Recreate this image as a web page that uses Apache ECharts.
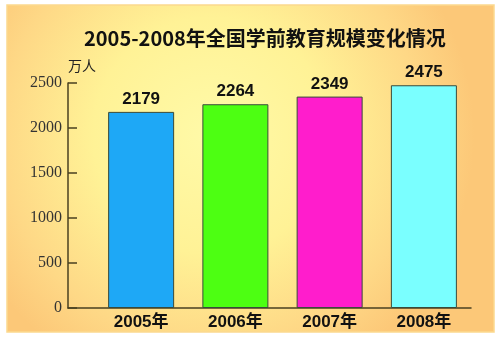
<!DOCTYPE html>
<html>
<head>
<meta charset="utf-8">
<script src="https://cdn.jsdelivr.net/npm/echarts@6/dist/echarts.min.js"></script>
<style>html,body{margin:0;padding:0;background:#fff;}#c{width:500px;height:338px;}</style>
</head>
<body>
<div id="c"></div>
<script>
var categories = ['2005年', '2006年', '2007年', '2008年'];
var values = [2179, 2264, 2349, 2475];
var barColors = ['#1ea8f6', '#4dff12', '#ff1dcc', '#7affff'];
var yTicks = [0, 500, 1000, 1500, 2000, 2500];
var titleText = '2005-2008年全国学前教育规模变化情况';
var unitText = '万人';

var chart = echarts.init(document.getElementById('c'), null, {renderer: 'canvas'});
var sans = 'Liberation Sans, Arial, Noto Sans CJK SC, sans-serif';
chart.setOption({
  animation: false,
  backgroundColor: '#ffffff',
  graphic: [{
    type: 'rect', z: -10, silent: true,
    shape: {x: 7, y: 5, width: 487, height: 327},
    style: {
      fill: {type: 'radial', x: 0.42, y: 0.4, r: 0.8, colorStops: [
        {offset: 0, color: '#fffaa8'}, {offset: 0.45, color: '#fff296'},
        {offset: 0.8, color: '#fed886'}, {offset: 1, color: '#fcc878'}]},
      stroke: '#fbd98e', lineWidth: 1.5
    }
  }],
  title: {
    text: titleText, left: 79, top: 23,
    textStyle: {fontFamily: 'Noto Sans CJK SC, sans-serif', fontWeight: 'bold', fontSize: 20, color: '#111'}
  },
  grid: [
    {left: 94, right: 29, top: 83, bottom: 30},
    {left: 68, right: 29, top: 83, bottom: 30}
  ],
  xAxis: [{
    type: 'category', gridIndex: 0, data: categories,
    axisLine: {show: false}, axisTick: {show: false},
    axisLabel: {margin: 6, fontFamily: sans, fontWeight: 'bold', fontSize: 17, color: '#111'}
  }, {
    type: 'value', gridIndex: 1, min: 0, max: 1,
    axisLine: {show: true, lineStyle: {color: '#4a4020', width: 1.5}},
    axisTick: {show: false}, axisLabel: {show: false}, splitLine: {show: false}
  }],
  yAxis: [{
    type: 'value', gridIndex: 0, min: yTicks[0], max: yTicks[yTicks.length - 1], interval: 500,
    offset: 26,
    name: unitText, nameLocation: 'end', nameGap: 10,
    nameTextStyle: {align: 'left', fontFamily: 'Noto Sans CJK SC, sans-serif', fontSize: 14, color: '#222'},
    axisLine: {show: true, lineStyle: {color: '#4a4020', width: 1.5}},
    axisTick: {show: true, inside: true, length: 9, lineStyle: {color: '#4a4020', width: 1.5}},
    axisLabel: {margin: 6, fontFamily: 'Liberation Serif, Times New Roman, serif', fontSize: 16, color: '#333',
      formatter: function (v) { return String(v); }},
    splitLine: {show: false}
  }, {
    type: 'value', gridIndex: 1, show: false, min: 0, max: 1
  }],
  series: [{
    type: 'bar', xAxisIndex: 0, yAxisIndex: 0, barWidth: 66,
    data: values.map(function (v, i) {
      return {value: v, itemStyle: {color: barColors[i]}};
    }),
    itemStyle: {borderColor: '#3a4a3a', borderWidth: 1},
    label: {show: true, position: 'top', distance: 4, fontFamily: sans, fontWeight: 'bold', fontSize: 17, color: '#111'}
  }]
});
</script>
</body>
</html>
